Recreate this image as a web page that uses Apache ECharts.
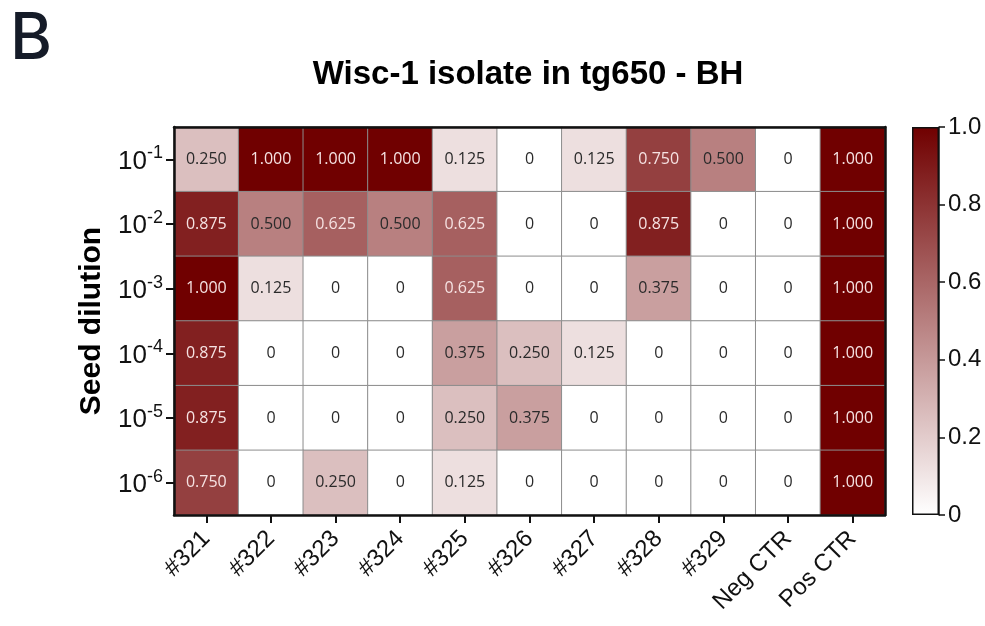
<!DOCTYPE html>
<html>
<head>
<meta charset="utf-8">
<script src="https://cdn.jsdelivr.net/npm/echarts@6/dist/echarts.min.js"></script>
<style>html,body{margin:0;padding:0;background:#fff}#c{width:985px;height:626px}</style>
</head>
<body>
<div id="c"></div>
<script>
const panelLetter = 'B';
const chartTitle = 'Wisc-1 isolate in tg650 - BH';
const yAxisName = 'Seed dilution';
const isolates = ['#321','#322','#323','#324','#325','#326','#327','#328','#329','Neg CTR','Pos CTR'];
const dilutionExponents = ['-1','-2','-3','-4','-5','-6'];
const row1 = [0.25, 1, 1, 1, 0.125, 0, 0.125, 0.75, 0.5, 0, 1];
const row2 = [0.875, 0.5, 0.625, 0.5, 0.625, 0, 0, 0.875, 0, 0, 1];
const row3 = [1, 0.125, 0, 0, 0.625, 0, 0, 0.375, 0, 0, 1];
const row4 = [0.875, 0, 0, 0, 0.375, 0.25, 0.125, 0, 0, 0, 1];
const row5 = [0.875, 0, 0, 0, 0.25, 0.375, 0, 0, 0, 0, 1];
const row6 = [0.75, 0, 0.25, 0, 0.125, 0, 0, 0, 0, 0, 1];
const colorbarValue = [1];

const rows = [row1, row2, row3, row4, row5, row6];
const heatData = [];
rows.forEach((r, yi) => r.forEach((v, xi) => heatData.push([xi, yi, v])));

const LOW = '#ffffff', HIGH = '#700000';
const chart = echarts.init(document.getElementById('c'));
const axisFont = 'Liberation Sans, Arial, sans-serif';

chart.setOption({
  animation: false,
  backgroundColor: '#fff',
  title: [
    { text: panelLetter, left: 5, top: 3,
      textStyle: { fontFamily: 'Inter, Open Sans, sans-serif', fontWeight: 500, fontSize: 64, color: '#151b28' } },
    { text: chartTitle, left: 523, top: 53, textAlign: 'center',
      textStyle: { fontFamily: axisFont, fontWeight: 'bold', fontSize: 33, color: '#000' } }
  ],
  grid: [
    { left: 174, top: 127, width: 711, height: 388 },
    { left: 912, top: 127, width: 27, height: 388 }
  ],
  visualMap: {
    show: false, type: 'continuous', min: 0, max: 1, seriesIndex: 0, dimension: 2,
    inRange: { color: [LOW, HIGH] }
  },
  xAxis: [
    { type: 'category', gridIndex: 0, data: isolates, position: 'bottom', z: 10,
      axisLine: { show: true, lineStyle: { color: '#111', width: 2.5 } },
      axisTick: { show: true, alignWithLabel: true, length: 8, lineStyle: { color: '#111', width: 2 } },
      axisLabel: { rotate: 45, fontFamily: axisFont, fontSize: 24, color: '#111', margin: 20, interval: 0 },
      splitLine: { show: false }
    },
    { type: 'category', gridIndex: 0, data: isolates, position: 'top', z: 10,
      axisLine: { show: true, lineStyle: { color: '#111', width: 2.5 } },
      axisTick: { show: false }, axisLabel: { show: false }
    },
    { type: 'category', gridIndex: 1, data: ['scale'], show: false }
  ],
  yAxis: [
    { type: 'category', gridIndex: 0, inverse: true, data: dilutionExponents, position: 'left', z: 10,
      name: yAxisName, nameLocation: 'middle', nameGap: 64, nameRotate: 90,
      nameTextStyle: { fontFamily: axisFont, fontWeight: 'bold', fontSize: 30, color: '#000' },
      axisLine: { show: true, lineStyle: { color: '#111', width: 2.5 } },
      axisTick: { show: true, alignWithLabel: true, length: 8, lineStyle: { color: '#111', width: 2 } },
      axisLabel: {
        margin: 11, interval: 0,
        formatter: e => '{b|10}{s|' + e + '}',
        rich: {
          b: { fontFamily: axisFont, fontSize: 26, color: '#111', verticalAlign: 'bottom', lineHeight: 30 },
          s: { fontFamily: axisFont, fontSize: 18, color: '#111', verticalAlign: 'top', lineHeight: 30 }
        }
      }
    },
    { type: 'category', gridIndex: 0, inverse: true, data: dilutionExponents, position: 'right', z: 10,
      axisLine: { show: true, lineStyle: { color: '#111', width: 2.5 } },
      axisTick: { show: false }, axisLabel: { show: false }
    },
    { type: 'value', gridIndex: 1, min: 0, max: 1, interval: 0.2, position: 'right', z: 10,
      axisLine: { show: true, lineStyle: { color: '#111', width: 1.5 } },
      axisTick: { show: true, length: 6, lineStyle: { color: '#111', width: 1.5 } },
      splitLine: { show: false },
      axisLabel: { fontFamily: axisFont, fontSize: 24, color: '#111', margin: 9,
        formatter: v => (v === 0 ? '0' : v.toFixed(1)) }
    }
  ],
  series: [
    { type: 'heatmap', xAxisIndex: 0, yAxisIndex: 0, data: heatData,
      itemStyle: { borderColor: '#8c8c8c', borderWidth: 1 },
      emphasis: { disabled: true },
      label: {
        show: true,
        formatter: p => {
          const v = p.value[2];
          const t = v === 0 ? '0' : v.toFixed(3);
          return v > 0.5 ? '{l|' + t + '}' : '{d|' + t + '}';
        },
        rich: {
          l: { fontFamily: 'Open Sans, sans-serif', fontSize: 16, color: '#f6e2e2' },
          d: { fontFamily: 'Open Sans, sans-serif', fontSize: 16, color: '#2a2a2a' }
        }
      }
    },
    { type: 'bar', xAxisIndex: 2, yAxisIndex: 2, data: colorbarValue, barWidth: '100%', silent: true,
      itemStyle: {
        color: new echarts.graphic.LinearGradient(0, 0, 0, 1, [
          { offset: 0, color: HIGH }, { offset: 1, color: LOW }
        ]),
        borderColor: '#111', borderWidth: 1.5
      }
    }
  ]
});
</script>
</body>
</html>
